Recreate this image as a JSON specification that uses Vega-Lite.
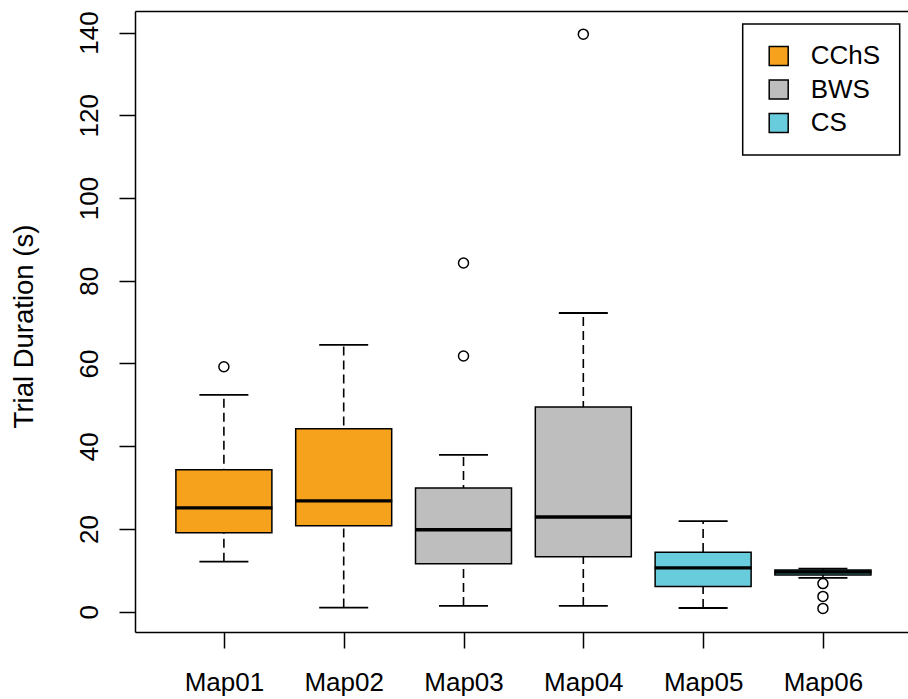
{
  "$schema": "https://vega.github.io/schema/vega-lite/v6.json",
  "width": 773,
  "height": 621,
  "autosize": {"type": "none"},
  "padding": {"left": 135, "top": 11, "right": 0, "bottom": 67},
  "background": "white",
  "datasets": {
    "boxes": [
      {"map": "Map01", "group": "CChS", "lower": 12.1, "q1": 19.1, "median": 25.1, "q3": 34.3, "upper": 52.4},
      {"map": "Map02", "group": "CChS", "lower": 1.0, "q1": 20.8, "median": 26.8, "q3": 44.2, "upper": 64.5},
      {"map": "Map03", "group": "BWS", "lower": 1.4, "q1": 11.6, "median": 19.8, "q3": 29.9, "upper": 37.9},
      {"map": "Map04", "group": "BWS", "lower": 1.4, "q1": 13.3, "median": 22.9, "q3": 49.5, "upper": 72.2},
      {"map": "Map05", "group": "CS", "lower": 0.9, "q1": 6.1, "median": 10.6, "q3": 14.4, "upper": 21.9},
      {"map": "Map06", "group": "CS", "lower": 8.2, "q1": 8.9, "median": 9.6, "q3": 10.1, "upper": 10.4}
    ],
    "outliers": [
      {"map": "Map01", "value": 59.2},
      {"map": "Map03", "value": 84.3},
      {"map": "Map03", "value": 61.8},
      {"map": "Map04", "value": 139.6},
      {"map": "Map06", "value": 6.8},
      {"map": "Map06", "value": 3.7},
      {"map": "Map06", "value": 0.8}
    ]
  },
  "data": {"name": "boxes"},
  "layer": [
    {
      "mark": {"type": "rule", "color": "#000", "strokeWidth": 1.6, "strokeDash": [9, 5]},
      "encoding": {
        "x": {
          "field": "map",
          "type": "nominal",
          "scale": {"type": "point", "domain": ["Map01", "Map02", "Map03", "Map04", "Map05", "Map06"], "padding": 0.726, "align": 0.511},
          "axis": {"title": null, "orient": "bottom", "labelAngle": 0, "labelPadding": 42, "labelBaseline": "alphabetic", "labelAlign": "center", "labelFontWeight": "normal"}
        },
        "y": {
          "field": "lower",
          "type": "quantitative",
          "title": "Trial Duration (s)",
          "scale": {"domain": [-4.9, 145.2], "nice": false, "zero": false},
          "axis": {
            "values": [0, 20, 40, 60, 80, 100, 120, 140],
            "labelAngle": 270,
            "labelAlign": "center",
            "labelBaseline": "alphabetic",
            "labelPadding": 22,
            "titleFontSize": 27.5,
            "titleFontWeight": "normal",
            "titleAngle": 270,
            "titleAlign": "center",
            "titleBaseline": "middle",
            "titleX": -111,
            "titleY": 315
          }
        },
        "y2": {"field": "upper"}
      }
    },
    {
      "mark": {"type": "bar", "size": 96, "stroke": "#000", "strokeWidth": 1.5},
      "encoding": {
        "x": {"field": "map", "type": "nominal", "axis": null},
        "y": {"field": "q1", "type": "quantitative", "title": "Trial Duration (s)"},
        "y2": {"field": "q3"},
        "fill": {
          "field": "group",
          "type": "nominal",
          "scale": {"domain": ["CChS", "BWS", "CS"], "range": ["#F7A21C", "#BEBEBE", "#68CCDC"]},
          "legend": {
            "orient": "none",
            "legendX": 607.7,
            "legendY": 13,
            "title": null,
            "strokeColor": "#000",
            "padding": 19,
            "symbolOffset": 4,
            "symbolType": "square",
            "symbolSize": 361,
            "symbolStrokeColor": "#000",
            "symbolStrokeWidth": 1.5,
            "labelFont": "Liberation Sans",
            "labelFontSize": 26,
            "labelColor": "#000",
            "labelOffset": 19,
            "rowPadding": 7.5,
            "encode": {"legend": {"update": {"strokeWidth": {"value": 1.5}}}}
          }
        }
      }
    },
    {
      "mark": {"type": "tick", "color": "#000", "thickness": 3.4, "size": 97, "opacity": 1},
      "encoding": {
        "x": {
          "field": "map",
          "type": "nominal",
          "axis": {"title": null, "orient": "top", "labels": false, "ticks": false, "domain": true}
        },
        "y": {"field": "median", "type": "quantitative", "title": "Trial Duration (s)"}
      }
    },
    {
      "mark": {"type": "tick", "color": "#000", "thickness": 1.8, "size": 49, "opacity": 1},
      "encoding": {
        "x": {"field": "map", "type": "nominal", "axis": null},
        "y": {"field": "lower", "type": "quantitative", "title": "Trial Duration (s)"}
      }
    },
    {
      "mark": {"type": "tick", "color": "#000", "thickness": 1.8, "size": 49, "opacity": 1},
      "encoding": {
        "x": {"field": "map", "type": "nominal", "axis": null},
        "y": {"field": "upper", "type": "quantitative", "title": "Trial Duration (s)"}
      }
    },
    {
      "data": {"name": "outliers"},
      "mark": {"type": "point", "shape": "circle", "filled": false, "stroke": "#000", "strokeWidth": 1.5, "size": 100, "opacity": 1},
      "encoding": {
        "x": {"field": "map", "type": "nominal", "axis": null},
        "y": {"field": "value", "type": "quantitative", "title": "Trial Duration (s)"}
      }
    }
  ],
  "config": {
    "view": {"stroke": null},
    "axis": {
      "grid": false,
      "domain": true,
      "domainColor": "#000",
      "domainWidth": 1.5,
      "tickColor": "#000",
      "tickWidth": 1.5,
      "tickSize": 16,
      "labelFont": "Liberation Sans",
      "labelFontSize": 26,
      "labelFontWeight": "normal",
      "labelColor": "#000",
      "titleFont": "Liberation Sans",
      "titleColor": "#000"
    }
  }
}
